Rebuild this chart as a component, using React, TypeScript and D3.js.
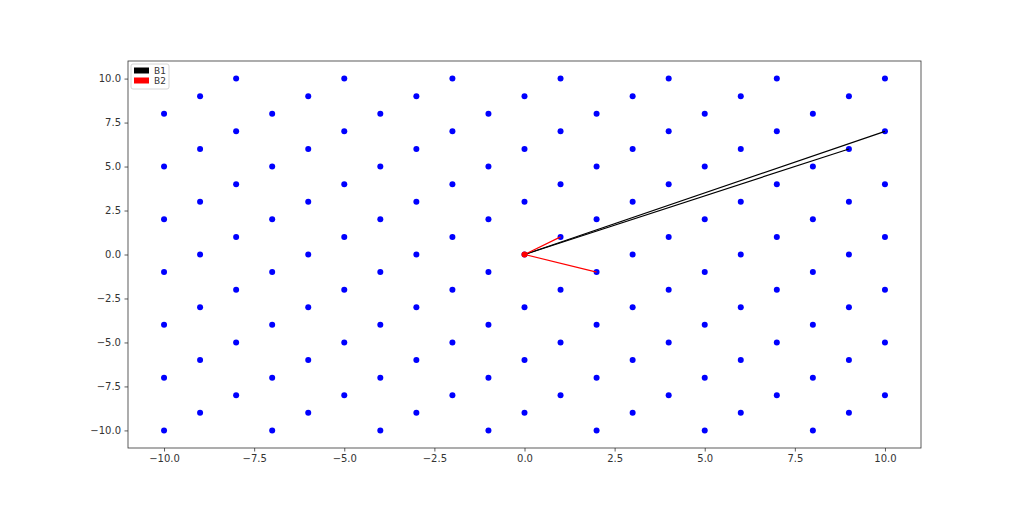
import { useEffect, useRef } from 'react';
import * as d3 from 'd3';

// lattice points, one list of y values per x column
const columnXs = [-10, -9, -8, -7, -6, -5, -4, -3, -2, -1, 0, 1, 2, 3, 4, 5, 6, 7, 8, 9, 10];
const columnYs = [
  [8, 5, 2, -1, -4, -7, -10],
  [9, 6, 3, 0, -3, -6, -9],
  [10, 7, 4, 1, -2, -5, -8],
  [8, 5, 2, -1, -4, -7, -10],
  [9, 6, 3, 0, -3, -6, -9],
  [10, 7, 4, 1, -2, -5, -8],
  [8, 5, 2, -1, -4, -7, -10],
  [9, 6, 3, 0, -3, -6, -9],
  [10, 7, 4, 1, -2, -5, -8],
  [8, 5, 2, -1, -4, -7, -10],
  [9, 6, 3, 0, -3, -6, -9],
  [10, 7, 4, 1, -2, -5, -8],
  [8, 5, 2, -1, -4, -7, -10],
  [9, 6, 3, 0, -3, -6, -9],
  [10, 7, 4, 1, -2, -5, -8],
  [8, 5, 2, -1, -4, -7, -10],
  [9, 6, 3, 0, -3, -6, -9],
  [10, 7, 4, 1, -2, -5, -8],
  [8, 5, 2, -1, -4, -7, -10],
  [9, 6, 3, 0, -3, -6, -9],
  [10, 7, 4, 1, -2, -5, -8],
];

// basis vectors drawn from the origin
const b1Ends: [number, number][] = [[10, 7], [9, 6]];
const b2Ends: [number, number][] = [[1, 1], [2, -1]];

const tickValues = [-10, -7.5, -5, -2.5, 0, 2.5, 5, 7.5, 10];
const legendItems = [
  { label: 'B1', color: 'black' },
  { label: 'B2', color: 'red' },
];

const App = () => {
  const svgRef = useRef<SVGSVGElement>(null);

  useEffect(() => {
    if (!svgRef.current) {
      return;
    }
    const width = 1024;
    const height = 512;
    const left = 128;
    const right = 921;
    const top = 61;
    const bottom = 448;

    const svg = d3.select(svgRef.current);
    svg.selectAll('*').remove();
    svg.attr('width', width).attr('height', height);

    const x = d3.scaleLinear().domain([-11, 11]).range([left, right]);
    const y = d3.scaleLinear().domain([-11, 11]).range([bottom, top]);

    const fmt = (v: number) => d3.format('.1f')(v).replace('-', '\u2212');

    const xAxis = svg
      .append('g')
      .attr('transform', `translate(0,${bottom})`)
      .call(d3.axisBottom(x).tickValues(tickValues).tickFormat((d) => fmt(d as number)).tickSize(3.5).tickPadding(3.5));
    const yAxis = svg
      .append('g')
      .attr('transform', `translate(${left},0)`)
      .call(d3.axisLeft(y).tickValues(tickValues).tickFormat((d) => fmt(d as number)).tickSize(3.5).tickPadding(3.5));

    [xAxis, yAxis].forEach((ax) => {
      ax.select('.domain').remove();
      ax.selectAll('line').attr('stroke', '#333').attr('stroke-width', 0.8);
      ax.selectAll('text').attr('fill', '#333').style('font-family', 'DejaVu Sans').style('font-size', '10px');
    });

    const pts: [number, number][] = [];
    columnXs.forEach((cx, i) => {
      columnYs[i].forEach((cy) => pts.push([cx, cy]));
    });

    svg
      .append('g')
      .selectAll('circle')
      .data(pts)
      .enter()
      .append('circle')
      .attr('cx', (d) => x(d[0]))
      .attr('cy', (d) => y(d[1]))
      .attr('r', 3)
      .attr('fill', 'blue');

    svg
      .append('g')
      .selectAll('line')
      .data(b1Ends)
      .enter()
      .append('line')
      .attr('x1', x(0))
      .attr('y1', y(0))
      .attr('x2', (d) => x(d[0]))
      .attr('y2', (d) => y(d[1]))
      .attr('stroke', 'black')
      .attr('stroke-width', 1.2);

    svg
      .append('g')
      .selectAll('line')
      .data(b2Ends)
      .enter()
      .append('line')
      .attr('x1', x(0))
      .attr('y1', y(0))
      .attr('x2', (d) => x(d[0]))
      .attr('y2', (d) => y(d[1]))
      .attr('stroke', 'red')
      .attr('stroke-width', 1.2);

    svg.append('circle').attr('cx', x(0)).attr('cy', y(0)).attr('r', 3).attr('fill', 'red');

    // frame
    svg
      .append('rect')
      .attr('x', left)
      .attr('y', top)
      .attr('width', right - left)
      .attr('height', bottom - top)
      .attr('fill', 'none')
      .attr('stroke', '#333')
      .attr('stroke-width', 0.8);

    // legend
    const lg = svg.append('g').attr('transform', `translate(${left + 3},${top + 3})`);
    lg.append('rect')
      .attr('width', 38)
      .attr('height', 25)
      .attr('rx', 2)
      .attr('fill', 'white')
      .attr('fill-opacity', 0.8)
      .attr('stroke', '#ccc')
      .attr('stroke-width', 0.8);
    legendItems.forEach((item, i) => {
      lg.append('rect')
        .attr('x', 3)
        .attr('y', 3.5 + i * 10)
        .attr('width', 15)
        .attr('height', 6)
        .attr('fill', item.color);
      lg.append('text')
        .attr('x', 23)
        .attr('y', 10 + i * 10)
        .attr('fill', '#333')
        .style('font-family', 'DejaVu Sans')
        .style('font-size', '9px')
        .text(item.label);
    });
  }, []);

  return (
    <div style={{ position: 'absolute', left: 0, top: 0, background: 'white' }}>
      <svg ref={svgRef} style={{ display: 'block' }} />
    </div>
  );
};

export default App;
